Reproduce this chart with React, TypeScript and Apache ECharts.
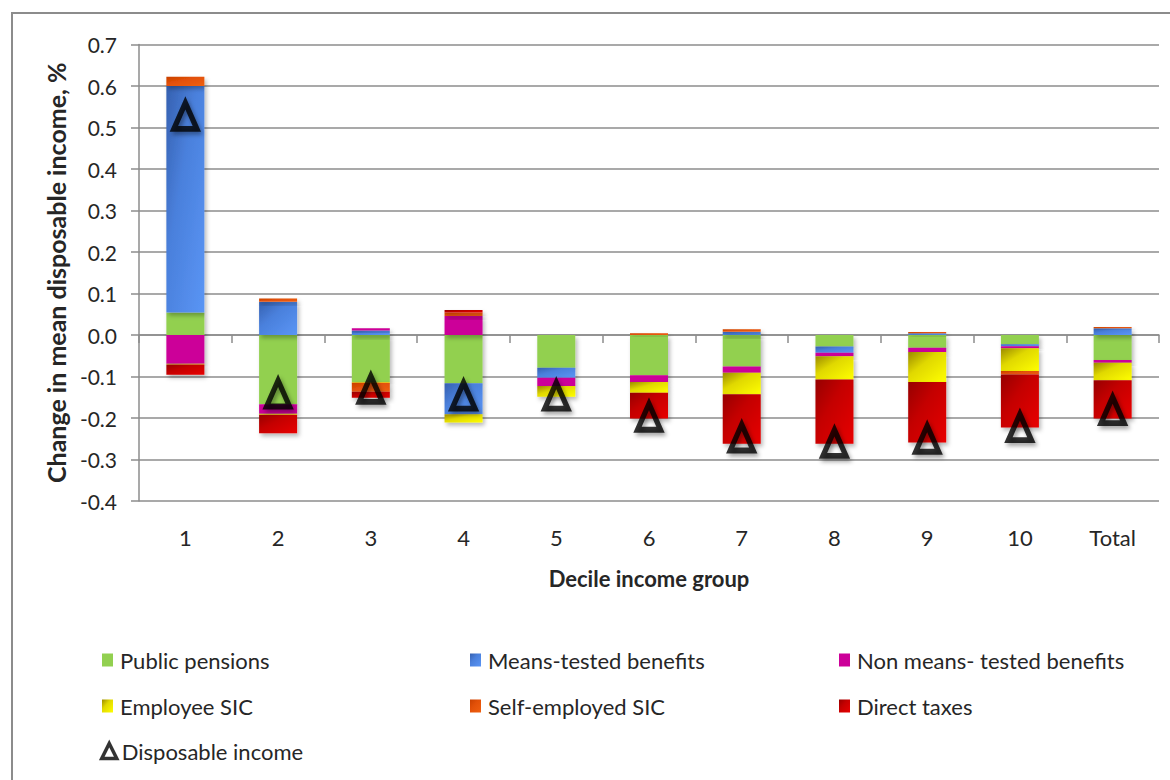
import React, { useEffect, useRef } from "react";
import * as echarts from "echarts";

const categories = ["1", "2", "3", "4", "5", "6", "7", "8", "9", "10", "Total"];

const publicPensions = [0.054, -0.167, -0.113, -0.116, -0.079, -0.097, -0.076, -0.028, -0.031, -0.022, -0.06];
const meansTestedBenefits = [0.546, 0.08, 0.011, -0.075, -0.024, 0, 0.008, -0.015, 0.004, -0.005, 0.016];
const nonMeansTestedBenefits = [-0.069, -0.023, 0.005, 0.046, -0.02, -0.016, -0.015, -0.008, -0.01, -0.005, -0.007];
const employeeSIC = [-0.002, -0.002, -0.002, -0.02, -0.026, -0.026, -0.052, -0.056, -0.072, -0.055, -0.042];
const selfEmployedSIC = [0.022, 0.008, -0.022, 0.008, 0, 0.004, 0.006, 0, 0.003, -0.008, 0.003];
const directTaxes = [-0.025, -0.045, -0.014, 0.006, 0, -0.062, -0.119, -0.155, -0.146, -0.128, -0.092];
const disposableIncome = [0.528, -0.141, -0.13, -0.146, -0.146, -0.197, -0.247, -0.26, -0.25, -0.222, -0.181];

const yTicks = { min: -0.4, max: 0.7, interval: 0.1 };

const FONT = "Lato";
const TEXT = "#262626";

function grad(c1: string, c2: string, c3: string) {
  return new echarts.graphic.LinearGradient(0, 0, 1, 1, [
    { offset: 0, color: c1 },
    { offset: 0.4, color: c2 },
    { offset: 1, color: c3 },
  ]);
}

export default function App() {
  const ref = useRef<HTMLDivElement>(null);
  useEffect(() => {
    if (!ref.current) return;
    const chart = echarts.init(ref.current, null, { renderer: "svg" });

    const shadow = {
      shadowBlur: 4,
      shadowColor: "rgba(0,0,0,0.28)",
      shadowOffsetX: 2,
      shadowOffsetY: 3,
    };

    const barDefs = [
      { name: "Public pensions", data: publicPensions, color: "#92D050" },
      { name: "Means-tested benefits", data: meansTestedBenefits, color: grad("#3560B0", "#4A80DC", "#5A95F5") },
      { name: "Non means- tested benefits", data: nonMeansTestedBenefits, color: "#CC0099" },
      { name: "Employee SIC", data: employeeSIC, color: grad("#9A8A00", "#E0D800", "#FFFF00") },
      { name: "Self-employed SIC", data: selfEmployedSIC, color: grad("#C84000", "#E25008", "#F06010") },
      { name: "Direct taxes", data: directTaxes, color: grad("#960000", "#C40000", "#E80000") },
    ];

    const series: any[] = barDefs.map((b) => ({
      name: b.name,
      type: "bar",
      stack: "all",
      barWidth: 38,
      xAxisIndex: 0,
      data: b.data,
      itemStyle: { color: b.color, ...shadow },
    }));

    series.push({
      name: "Disposable income",
      type: "scatter",
      xAxisIndex: 0,
      data: disposableIncome,
      symbol: "triangle",
      symbolSize: [23, 26],
      z: 5,
      itemStyle: {
        color: "rgba(0,0,0,0)",
        borderColor: "#000",
        borderWidth: 5.5,
        borderJoin: "miter",
        shadowBlur: 4,
        shadowColor: "rgba(0,0,0,0.45)",
        shadowOffsetX: 2,
        shadowOffsetY: 3,
      },
    });

    const legendText = { fontSize: 22, fontFamily: FONT, color: TEXT };
    const legendItems = [
      { name: "Public pensions", left: 102, top: 649 },
      { name: "Means-tested benefits", left: 470, top: 649 },
      { name: "Non means- tested benefits", left: 839, top: 649 },
      { name: "Employee SIC", left: 102, top: 695 },
      { name: "Self-employed SIC", left: 470, top: 695 },
      { name: "Direct taxes", left: 839, top: 695 },
    ];
    const legends: any[] = legendItems.map((l) => ({
      data: [l.name],
      left: l.left,
      top: l.top,
      padding: 0,
      icon: "rect",
      itemWidth: 11,
      itemHeight: 13,
      itemGap: 6,
      textStyle: { ...legendText, padding: [0, 0, 0, 2] },
      selectedMode: false,
    }));
    legends.push({
      data: ["Disposable income"],
      left: 100,
      top: 740,
      padding: 0,
      itemWidth: 15,
      itemHeight: 15,
      textStyle: { ...legendText, padding: [0, 0, 0, 0] },
      itemStyle: { color: "rgba(0,0,0,0)", borderColor: "#000", borderWidth: 3.5, shadowBlur: 0, shadowOffsetX: 0, shadowOffsetY: 0 },
      selectedMode: false,
    });

    chart.setOption({
      animation: false,
      backgroundColor: "#fff",
      grid: { left: 139, right: 11, top: 44.5, bottom: 279, containLabel: false },
      graphic: [
        {
          type: "rect",
          shape: { x: 12, y: 13, width: 1200, height: 800 },
          style: { fill: "none", stroke: "#8c8c8c", lineWidth: 2 },
          silent: true,
          z: -1,
        },
      ],
      legend: legends,
      xAxis: [
        {
          type: "category",
          data: categories,
          position: "bottom",
          axisLine: { show: false, onZero: false },
          axisTick: { show: false },
          axisLabel: { fontSize: 22, fontFamily: FONT, color: TEXT, margin: 25 },
          name: "Decile income group",
          nameLocation: "middle",
          nameGap: 66,
          nameTextStyle: { fontSize: 22, fontWeight: "bold", fontFamily: FONT, color: TEXT },
        },
        {
          type: "category",
          data: categories,
          position: "bottom",
          axisLine: { show: true, onZero: true, lineStyle: { color: "#8c8c8c", width: 1.5 } },
          axisTick: { show: true, length: 8, lineStyle: { color: "#8c8c8c", width: 1.5 } },
          axisLabel: { show: false },
        },
      ],
      yAxis: {
        type: "value",
        min: yTicks.min,
        max: yTicks.max,
        interval: yTicks.interval,
        axisLine: { show: true, lineStyle: { color: "#8c8c8c", width: 1.5 } },
        axisTick: { show: true, length: 8, lineStyle: { color: "#8c8c8c", width: 1.5 } },
        splitLine: { show: true, lineStyle: { color: "#8c8c8c", width: 1.5 } },
        axisLabel: {
          fontSize: 21,
          fontFamily: FONT,
          color: TEXT,
          margin: 22,
          formatter: (v: number) => v.toFixed(1),
        },
        name: "Change in mean disposable income, %",
        nameLocation: "middle",
        nameGap: 67,
        nameTextStyle: { fontSize: 25, fontWeight: "bold", fontFamily: FONT, color: TEXT },
      },
      series,
    });

    return () => chart.dispose();
  }, []);

  return (
    <div
      ref={ref}
      style={{ position: "fixed", left: 0, top: 0, width: 1170, height: 780, background: "#fff" }}
    />
  );
}
